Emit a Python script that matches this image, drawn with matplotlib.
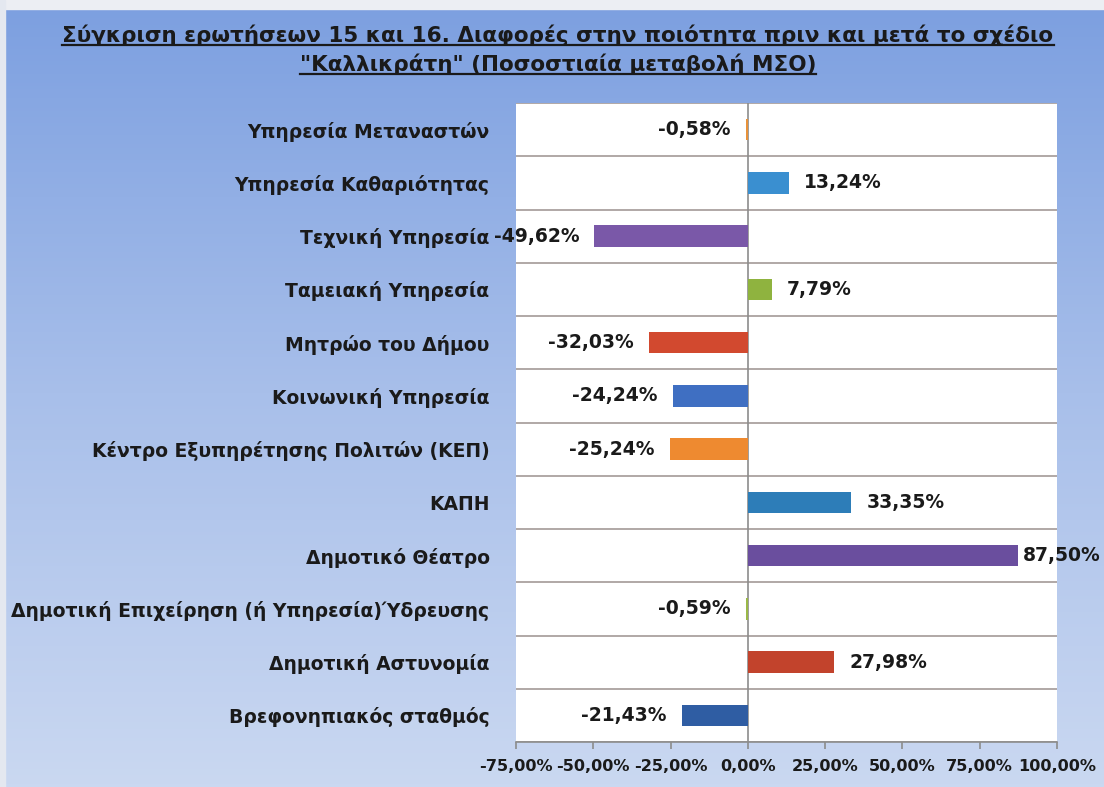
import numpy as np
import matplotlib
matplotlib.use("Agg")
import matplotlib.pyplot as plt
from matplotlib.colors import LinearSegmentedColormap

plt.rcParams['font.family'] = ['DejaVu Sans']

categories = [
    "Υπηρεσία Μεταναστών",
    "Υπηρεσία Καθαριότητας",
    "Τεχνική Υπηρεσία",
    "Ταμειακή Υπηρεσία",
    "Μητρώο του Δήμου",
    "Κοινωνική Υπηρεσία",
    "Κέντρο Εξυπηρέτησης Πολιτών (ΚΕΠ)",
    "ΚΑΠΗ",
    "Δημοτικό Θέατρο",
    "Δημοτική Επιχείρηση (ή Υπηρεσία)Ύδρευσης",
    "Δημοτική Αστυνομία",
    "Βρεφονηπιακός σταθμός",
]
values = [-0.58, 13.24, -49.62, 7.79, -32.03, -24.24, -25.24, 33.35, 87.50, -0.59, 27.98, -21.43]
colors = ["#e8923a", "#3a8fd0", "#7a58a8", "#8fb33f", "#d2492f", "#3f6fc2",
          "#ee8a30", "#2d7db8", "#6a4e9e", "#9ab848", "#c2432c", "#2f5da3"]
xticks = [-75, -50, -25, 0, 25, 50, 75, 100]
title_lines = ["Σύγκριση ερωτήσεων 15 και 16. Διαφορές στην ποιότητα πριν και μετά το σχέδιο",
               "\"Καλλικράτη\" (Ποσοστιαία μεταβολή ΜΣΟ)"]

W, H = 1104, 787
fig = plt.figure(figsize=(W / 100, H / 100), dpi=100)

# background gradient
bg = fig.add_axes([0, 0, 1, 1], zorder=-10)
cmap = LinearSegmentedColormap.from_list("bg", ["#7c9fe0", "#a8bfea", "#cad8f1"])
grad = np.linspace(0, 1, 256).reshape(-1, 1)
bg.imshow(grad, aspect="auto", cmap=cmap, extent=[0, 1, 0, 1], origin="upper")
bg.axhspan(1 - 9 / H, 1, color="#eceef3")
bg.axvspan(0, 5 / W, color="#e4e8f0")
bg.set_xlim(0, 1); bg.set_ylim(0, 1)
bg.axis("off")

ax = fig.add_axes([516 / W, 1 - 742 / H, (1057 - 516) / W, (742 - 103) / H])
ax.set_facecolor("white")
n = len(categories)
y = np.arange(n)
ax.barh(y, values, height=0.4, color=colors, zorder=3)
ax.set_ylim(n - 0.5, -0.5)
ax.set_xlim(-75, 100)

for yy in np.arange(-0.5, n - 0.4, 1.0):
    ax.axhline(yy, color="#a39a97", lw=1.2, zorder=1)
ax.axvline(0, color="#8c8c8c", lw=1.2, zorder=2)

labels = []
for yi, v in zip(y, values):
    lab = f"{v:.2f}%".replace(".", ",")
    if v >= 0:
        a = ax.annotate(lab, (v, yi), xytext=(11, 0), textcoords="offset points",
                        ha="left", va="center", fontsize=13.5, fontweight="bold",
                        color="#1a1a1a", annotation_clip=False)
    else:
        a = ax.annotate(lab, (min(v, 0), yi), xytext=(-11, 0), textcoords="offset points",
                        ha="right", va="center", fontsize=13.5, fontweight="bold",
                        color="#1a1a1a", annotation_clip=False)
    labels.append(a)

ax.set_yticks(y)
ax.set_yticklabels(categories, fontsize=13.5, fontweight="bold", color="#1a1a1a")
ax.tick_params(axis="y", length=0, pad=19)
ax.set_xticks(xticks)
ax.set_xticklabels([f"{t:.2f}%".replace(".", ",") for t in xticks],
                   fontsize=11.6, fontweight="bold", color="#1a1a1a")
ax.tick_params(axis="x", length=5, color="#8c8c8c", width=1.2, direction="out", pad=7)
for s in ["top", "right", "left"]:
    ax.spines[s].set_visible(False)
ax.spines["bottom"].set_color("#8c8c8c")
ax.spines["bottom"].set_linewidth(1.2)

# title with underline
tys = [1 - 35 / H, 1 - 64 / H]
texts = []
for line, ty in zip(title_lines, tys):
    t = fig.text(558 / W, ty, line, ha="center", va="center", fontsize=15.5,
                 fontweight="bold", color="#1a1a1a")
    texts.append(t)
fig.canvas.draw()
r = fig.canvas.get_renderer()
for t in texts:
    bb = t.get_window_extent(r)
    yl = (bb.y0 + 1) / H
    fig.add_artist(plt.Line2D([bb.x0 / W, bb.x1 / W], [yl, yl], color="#1a1a1a", lw=1.6))

# keep value labels inside the figure
for a in labels:
    bb = a.get_window_extent(r)
    if bb.x1 > W - 3:
        dx_pts = (bb.x1 - (W - 3)) * 72 / fig.dpi
        ox, oy = a.xyann
        a.xyann = (ox - dx_pts, oy)

fig.savefig("out.png", dpi=100)
